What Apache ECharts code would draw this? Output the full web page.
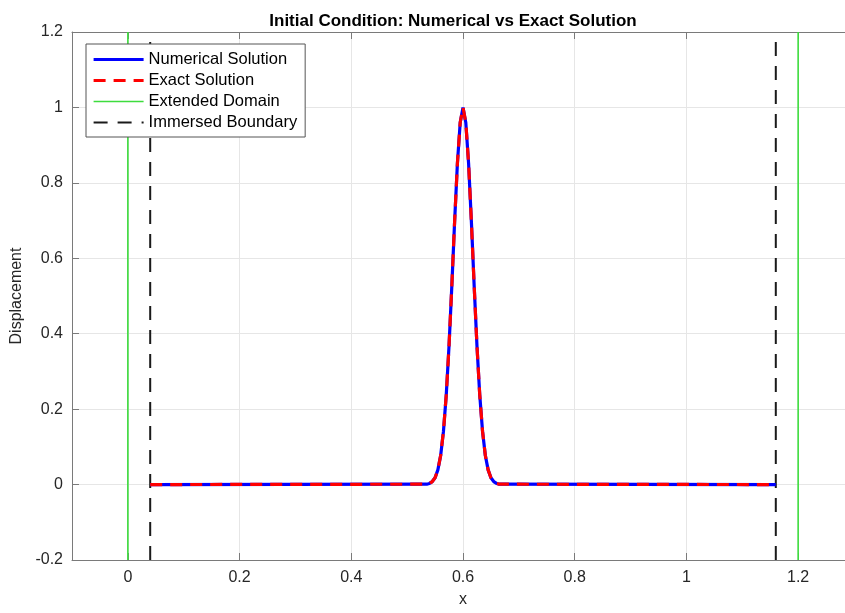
<!DOCTYPE html>
<html>
<head>
<meta charset="utf-8">
<script src="https://cdn.jsdelivr.net/npm/echarts@6/dist/echarts.min.js"></script>
<style>
html,body{margin:0;padding:0;background:#fff;overflow:hidden;}
#chart{width:860px;height:613px;}
</style>
</head>
<body>
<div id="chart"></div>
<script>
// ---- data ----
const xTicks = [0, 0.2, 0.4, 0.6, 0.8, 1, 1.2];
const yTicks = [-0.2, 0, 0.2, 0.4, 0.6, 0.8, 1, 1.2];
const solX = [0.04, 0.535, 0.54, 0.545, 0.55, 0.555, 0.56, 0.565, 0.57, 0.575, 0.58, 0.585, 0.59, 0.595, 0.6,
              0.605, 0.61, 0.615, 0.62, 0.625, 0.63, 0.635, 0.64, 0.645, 0.65, 0.655, 0.66, 0.665, 1.16];
const numericalY = [0, 0.001, 0.003, 0.008, 0.018, 0.039, 0.077, 0.141, 0.237, 0.368, 0.527, 0.698, 0.852, 0.96, 1.0,
                    0.96, 0.852, 0.698, 0.527, 0.368, 0.237, 0.141, 0.077, 0.039, 0.018, 0.008, 0.003, 0.001, 0];
const exactY = [0, 0.001, 0.003, 0.008, 0.018, 0.039, 0.077, 0.141, 0.237, 0.368, 0.527, 0.698, 0.852, 0.96, 1.0,
                0.96, 0.852, 0.698, 0.527, 0.368, 0.237, 0.141, 0.077, 0.039, 0.018, 0.008, 0.003, 0.001, 0];
const extendedDomainX = [0, 1.2];
const immersedBoundaryX = [0.04, 1.16];
const yRange = [-0.2, 1.2];

const FONT = "'Liberation Sans', Arial, Helvetica, sans-serif";
const fmt = v => String(Number(v.toFixed(2)));

const chart = echarts.init(document.getElementById('chart'), null, {renderer: 'canvas'});

const vSeries = (name, x, style) => ({
  name: name, type: 'line', symbol: 'none', showSymbol: false, silent: true,
  data: [[x, yRange[0]], [x, yRange[1]]], lineStyle: style, itemStyle: {color: style.color},
  z: 3, animation: false
});

const series = [
  {name: 'Numerical Solution', type: 'line', symbol: 'none', showSymbol: false,
   data: solX.map((x, i) => [x, numericalY[i]]),
   lineStyle: {color: '#0000ff', width: 3.2}, itemStyle: {color: '#0000ff'}, z: 4, animation: false},
  {name: 'Exact Solution', type: 'line', symbol: 'none', showSymbol: false,
   data: solX.map((x, i) => [x, exactY[i]]),
   lineStyle: {color: '#ff0000', width: 3.2, type: [12, 8]}, itemStyle: {color: '#ff0000'}, z: 5, animation: false}
];
extendedDomainX.forEach(x => series.push(vSeries('Extended Domain', x, {color: '#3ddc3d', width: 1.6})));
immersedBoundaryX.forEach(x => series.push(vSeries('Immersed Boundary', x, {color: '#1a1a1a', width: 2, type: [14, 10]})));

const axisLineStyle = {color: '#7a7a7a', width: 1};
const option = {
  backgroundColor: '#ffffff',
  animation: false,
  title: {
    text: 'Initial Condition: Numerical vs Exact Solution',
    left: 448, top: 8, textAlign: 'center',
    textStyle: {fontFamily: FONT, fontSize: 17, fontWeight: 'bold', color: '#000'}
  },
  grid: {left: 72, top: 32, right: 6, height: 531, containLabel: false},
  legend: {
    orient: 'vertical', left: 86, top: 44,
    data: ['Numerical Solution', 'Exact Solution', 'Extended Domain', 'Immersed Boundary'],
    itemWidth: 50, itemHeight: 14, itemGap: 4,
    itemStyle: {opacity: 0},
    lineStyle: {width: 'inherit'},
    padding: [7, 8, 6, 6],
    backgroundColor: '#ffffff', borderColor: '#555', borderWidth: 1,
    textStyle: {fontFamily: FONT, fontSize: 16.5, color: '#000'},
    selectedMode: false
  },
  xAxis: [{
    type: 'value', min: -0.1, max: 1.3, position: 'bottom',
    name: 'x', nameLocation: 'middle', nameGap: 32,
    nameTextStyle: {fontFamily: FONT, fontSize: 16, color: '#262626'},
    axisLine: {show: true, onZero: false, lineStyle: axisLineStyle},
    axisTick: {show: true, inside: true, length: 7, customValues: xTicks, lineStyle: axisLineStyle},
    axisLabel: {customValues: xTicks, formatter: fmt, margin: 10, fontFamily: FONT, fontSize: 16, color: '#262626'},
    splitLine: {show: true, lineStyle: {color: '#e6e6e6', width: 1}}
  }, {
    type: 'value', min: -0.1, max: 1.3, position: 'top',
    axisLine: {show: true, onZero: false, lineStyle: axisLineStyle},
    axisTick: {show: true, inside: true, length: 7, customValues: xTicks, lineStyle: axisLineStyle},
    axisLabel: {show: false, customValues: xTicks},
    splitLine: {show: false}
  }],
  yAxis: [{
    type: 'value', min: -0.2, max: 1.2, interval: 0.2, position: 'left',
    name: 'Displacement', nameLocation: 'middle', nameGap: 46, nameRotate: 90,
    nameTextStyle: {fontFamily: FONT, fontSize: 16, color: '#262626'},
    axisLine: {show: true, onZero: false, lineStyle: axisLineStyle},
    axisTick: {show: true, inside: true, length: 7, lineStyle: axisLineStyle},
    axisLabel: {formatter: fmt, margin: 9, fontFamily: FONT, fontSize: 16, color: '#262626'},
    splitLine: {show: true, lineStyle: {color: '#e6e6e6', width: 1}}
  }],
  series: series
};
chart.setOption(option);
</script>
</body>
</html>
